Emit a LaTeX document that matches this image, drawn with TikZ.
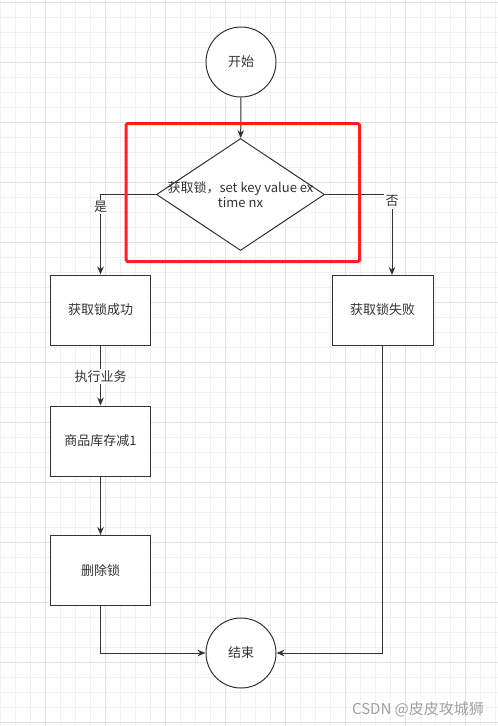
\documentclass[tikz,border=0pt]{standalone}
\usepackage{fontspec}
\setmainfont{Noto Sans CJK SC}
\usetikzlibrary{shapes.geometric,arrows.meta}
\definecolor{ln}{HTML}{333333}
\definecolor{gminor}{HTML}{F0F0F0}
\definecolor{gmajor}{HTML}{E2E2E2}
\definecolor{redbox}{HTML}{FF1F1F}
\definecolor{wm}{HTML}{A0A0A0}
\begin{document}
\begin{tikzpicture}[x=1pt,y=-1pt,
  every node/.style={font=\fontsize{13}{15.3}\selectfont, text=ln},
  term/.style={draw=ln, circle, minimum size=70pt, inner sep=0pt, fill=white, line width=1pt},
  proc/.style={draw=ln, rectangle, minimum width=100pt, minimum height=70pt, inner sep=0pt, fill=white, line width=1pt},
  dec/.style={draw=ln, diamond, minimum width=168pt, minimum height=112pt, inner sep=0pt, fill=white, line width=1pt},
  conn/.style={draw=ln, line width=1pt, -{Stealth[length=8pt,width=6.5pt]}},
  plain/.style={draw=ln, line width=1pt},
  lbl/.style={fill=white, inner sep=1.5pt},
  gridminor/.style={draw=gminor, line width=1pt},
  gridmajor/.style={draw=gmajor, line width=1pt},
  hilite/.style={draw=redbox, line width=3pt, rounded corners=1.5pt}]
\useasboundingbox (0,0) rectangle (498,726);
\fill[white] (0,0) rectangle (498,726);
% grid
\foreach \i in {0,...,33} { \draw[gridminor] (15*\i,0) -- (15*\i,726); }
\foreach \j in {0,...,48} { \draw[gridminor] (0,2+15*\j) -- (498,2+15*\j); }
\foreach \i in {0,...,7} { \draw[gridmajor] (45+60*\i,0) -- (45+60*\i,726); }
\foreach \j in {0,...,12} { \draw[gridmajor] (0,2+60*\j) -- (498,2+60*\j); }
% nodes
\node[term] (start) at (241,62) {开始};
\node[dec] (d) at (240.5,194.5) {};
\node[align=center, inner sep=0pt] (dtext) at (240.5,194.5) {获取锁，set key value ex\\time nx};
\node[proc] (ok) at (100.5,310) {获取锁成功};
\node[proc, minimum width=101pt] (fail) at (382.5,310) {获取锁失败};
\node[proc] (stock) at (100.5,441) {商品库存减1};
\node[proc] (del) at (100.5,570.5) {删除锁};
\node[term] (end) at (241,653) {结束};
\coordinate (failin) at (392,275);
% connectors
\draw[conn] (start) -- (d);
\draw[conn] (d.west) -| node[lbl, pos=0.578] (yes) {是} (ok.north);
\draw[conn] (d.east) -| node[lbl, pos=0.543] (no) {否} (failin);
\draw[conn] (ok) -- node[lbl, pos=0.52] (biz) {执行业务} (stock);
\draw[conn] (stock) -- (del);
\draw[conn] (del.south) |- (end.west);
\draw[conn] (fail.south) |- (end.east);
% highlight box
\draw[hilite] (126,123.5) rectangle (359.5,261.5);
% watermark
\node[text=wm, font=\fontsize{15}{18}\selectfont, inner sep=0pt] (mark) at (418,709) {CSDN @皮皮攻城狮};
\end{tikzpicture}
\end{document}
